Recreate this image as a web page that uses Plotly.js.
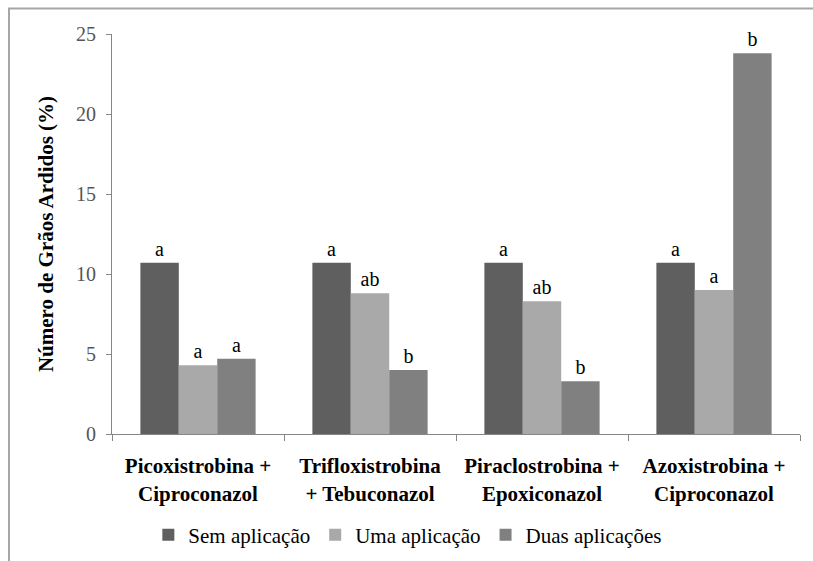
<!DOCTYPE html>
<html>
<head>
<meta charset="utf-8">
<script src="https://cdn.plot.ly/plotly-3.0.1.min.js"></script>
<style>
html,body{margin:0;padding:0;background:#fff;}
#chart{width:813px;height:561px;}
</style>
</head>
<body>
<div id="chart"></div>
<script>
const categories = [
  "Picoxistrobina +<br>Ciproconazol",
  "Trifloxistrobina<br>+ Tebuconazol",
  "Piraclostrobina +<br>Epoxiconazol",
  "Azoxistrobina +<br>Ciproconazol"
];
const seriesNames = ["Sem aplicação", "Uma aplicação", "Duas aplicações"];
const semAplicacao = [10.7, 10.7, 10.7, 10.7];
const umaAplicacao = [4.3, 8.8, 8.3, 9.0];
const duasAplicacoes = [4.7, 4.0, 3.3, 23.8];
const letrasSem = ["a", "a", "a", "a"];
const letrasUma = ["a", "ab", "ab", "a"];
const letrasDuas = ["a", "b", "b", "b"];
const yTitle = "Número de Grãos Ardidos (%)";

const serif = "Times New Roman";
const colors = ["#5f5f5f", "#a9a9a9", "#808080"];
const values = [semAplicacao, umaAplicacao, duasAplicacoes];
const letters = [letrasSem, letrasUma, letrasDuas];

const traces = seriesNames.map((name, i) => ({
  type: "bar",
  name: name,
  x: categories,
  y: values[i],
  text: letters[i],
  textposition: "outside",
  cliponaxis: false,
  textfont: {family: serif, size: 20, color: "#000"},
  marker: {color: colors[i], line: {width: 0}},
  hoverinfo: "none"
}));

const layout = {
  width: 813,
  height: 561,
  margin: {l: 112, r: 13, t: 34, b: 127, autoexpand: false},
  paper_bgcolor: "#fff",
  plot_bgcolor: "#fff",
  barmode: "group",
  bargap: 0.33,
  bargroupgap: 0,
  font: {family: serif, size: 18, color: "#000"},
  xaxis: {
    type: "category",
    showline: true,
    linecolor: "#868686",
    linewidth: 1,
    ticks: "outside",
    tickson: "boundaries",
    ticklen: 6,
    tickcolor: "#868686",
    showgrid: false,
    zeroline: false,
    tickangle: 0,
    automargin: false,
    tickfont: {family: serif, size: 21, color: "#000", weight: "bold"},
    ticklabelstandoff: 13
  },
  yaxis: {
    range: [0, 25],
    dtick: 5,
    showline: true,
    linecolor: "#868686",
    linewidth: 1,
    ticks: "outside",
    ticklen: 5,
    tickcolor: "#868686",
    showgrid: false,
    zeroline: false,
    automargin: false,
    tickfont: {family: serif, size: 20, color: "#555"},
    ticklabelstandoff: 6,
    title: {text: yTitle, font: {family: serif, size: 21, color: "#000", weight: "bold"}, standoff: 16}
  },
  showlegend: true,
  legend: {
    orientation: "h",
    x: 0.43,
    xanchor: "center",
    y: -0.253,
    yanchor: "middle",
    font: {family: serif, size: 21, color: "#000"},
    itemwidth: 30,
    traceorder: "normal"
  },
  shapes: [{
    type: "rect",
    xref: "paper",
    yref: "paper",
    x0: -0.1497,
    x1: 1.04,
    y0: -0.36,
    y1: 1.0635,
    line: {color: "#a6a6a6", width: 2},
    layer: "below"
  }]
};

Plotly.newPlot("chart", traces, layout, {displayModeBar: false, staticPlot: true});
</script>
</body>
</html>
